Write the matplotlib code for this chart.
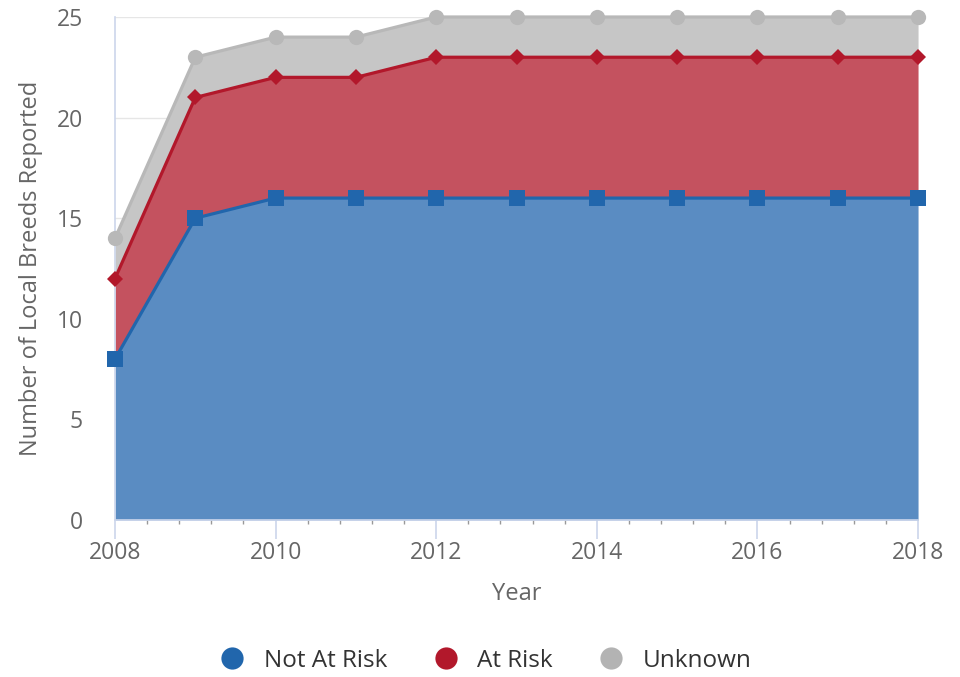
import matplotlib.pyplot as plt
from matplotlib.lines import Line2D
from matplotlib.ticker import MultipleLocator

years = [2008, 2009, 2010, 2011, 2012, 2013, 2014, 2015, 2016, 2017, 2018]
not_at_risk = [8, 15, 16, 16, 16, 16, 16, 16, 16, 16, 16]
at_risk = [4, 6, 6, 6, 7, 7, 7, 7, 7, 7, 7]
unknown = [2, 2, 2, 2, 2, 2, 2, 2, 2, 2, 2]

names = ["Not At Risk", "At Risk", "Unknown"]
line_colors = ["#2166ac", "#b2182b", "#b8b8b8"]
fill_colors = ["#5a8cc2", "#c4525f", "#c6c6c6"]
markers = ["s", "D", "o"]
msizes = [11.5, 8.5, 11]

plt.rcParams["font.family"] = ["Open Sans", "DejaVu Sans"]

fig = plt.figure(figsize=(9.6, 6.77), dpi=100)
ax = fig.add_axes([0.1198, 0.2319, 0.8365, 0.7430])

series = [not_at_risk, at_risk, unknown]
base = [0] * len(years)
tops = []
for vals, fc in zip(series, fill_colors):
    top = [b + v for b, v in zip(base, vals)]
    ax.fill_between(years, base, top, color=fc, linewidth=0, zorder=2)
    tops.append(top)
    base = top

# lines on top, lowest series drawn last
for top, lc, mk, ms in reversed(list(zip(tops, line_colors, markers, msizes))):
    ax.plot(years, top, color=lc, linewidth=2.3, marker=mk, markersize=ms,
            markeredgewidth=0, zorder=3, clip_on=False)

ax.set_xlim(2008, 2018)
ax.set_ylim(0, 25)
ax.xaxis.set_major_locator(MultipleLocator(2))
ax.xaxis.set_minor_locator(MultipleLocator(0.4))
ax.yaxis.set_major_locator(MultipleLocator(5))

ax.grid(axis="y", color="#e6e6e6", linewidth=1, zorder=0)
ax.set_axisbelow(True)
for s in ["top", "right"]:
    ax.spines[s].set_visible(False)
for s in ["left", "bottom"]:
    ax.spines[s].set_color("#ccd6eb")
    ax.spines[s].set_linewidth(1.2)

ax.tick_params(axis="x", which="major", length=14, width=1.2, color="#ccd6eb",
               labelsize=16.5, labelcolor="#666666", pad=1)
ax.tick_params(axis="x", which="minor", length=3, width=1, color="#999999")
ax.tick_params(axis="y", length=0, labelsize=16.5, labelcolor="#666666", pad=23)

ax.set_xlabel("Year", fontsize=17, color="#666666", labelpad=12)
ax.set_ylabel("Number of Local Breeds Reported", fontsize=17, color="#666666", labelpad=10)

handles = [Line2D([], [], linestyle="none", marker="o", markersize=16,
                  markerfacecolor=c, markeredgewidth=0) for c in ["#2166ac", "#b2182b", "#b3b3b3"]]
fig.legend(handles, names, loc="center", bbox_to_anchor=(0.5, 0.024), ncol=3,
           frameon=False, fontsize=17.5, handletextpad=0.3, columnspacing=1.4,
           labelcolor="#333333")

fig.savefig("out.png", dpi=100)
